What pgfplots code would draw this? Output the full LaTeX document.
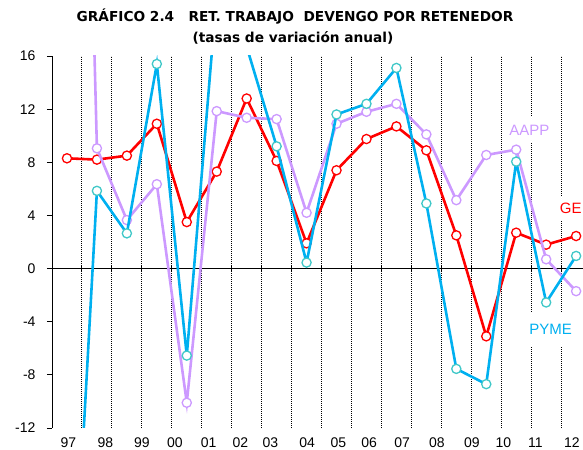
\documentclass[border=0pt]{standalone}
\usepackage{pgfplots}
\pgfplotsset{compat=1.18}
\usepackage{fontspec}
\setmainfont{Liberation Sans}
\newfontfamily\titlefont{DejaVu Sans}
\definecolor{geRed}{HTML}{FF0000}
\definecolor{pymeLine}{HTML}{00B0F0}
\definecolor{pymeMark}{HTML}{40C8C8}
\definecolor{aappCol}{HTML}{CC99FF}
\begin{document}
\begin{tikzpicture}
\begin{axis}[
  at={(0,0)}, anchor=south west,
  scale only axis, width=531.3bp, height=372bp,
  xmin=-0.5, xmax=17.24, ymin=-12, ymax=16,
  axis lines*=left,
  x axis line style={draw=none},
  y axis line style={black, line width=0.9bp},
  ytick={-12,-8,...,16},
  tick align=outside,
  major tick length=5bp,
  ytick style={black, line width=0.9bp},
  xtick={0.05,1.28,2.5,3.6,4.73,5.79,6.79,8.02,9.06,10.09,11.19,12.35,13.52,14.57,15.64,16.86},
  xticklabels={97,98,99,00,01,02,03,04,05,06,07,08,09,10,11,12},
  xtick style={draw=none},
  minor xtick={0.5,1.5,...,16.5},
  minor tick length=0pt,
  xminorgrids=true,
  minor x grid style={black, line width=1bp, dash pattern=on 1bp off 1bp},
  extra y ticks={0},
  extra y tick labels={},
  extra y tick style={grid=major, major grid style={black, line width=1bp}, tick style={draw=none}},
  /pgf/number format/assume math mode=true,
  ticklabel style={font=\fontsize{14bp}{16bp}\selectfont, text=black},
  yticklabel style={xshift=-8bp},
  xticklabel style={yshift=-1bp},
  clip marker paths=true,
  every axis plot/.append style={line width=2.6bp, mark=*, mark size=4.6bp},
]
\addplot[only marks, mark=|, mark size=3bp, black, line width=0.9bp, forget plot]
  coordinates {(0.5,0)(1.5,0)(2.5,0)(3.5,0)(4.5,0)(5.5,0)(6.5,0)(7.5,0)(8.5,0)(9.5,0)(10.5,0)(11.5,0)(12.5,0)(13.5,0)(14.5,0)(15.5,0)(16.5,0)};
% GE
\addplot[geRed, mark options={fill=white, draw=geRed, line width=1.3bp}] coordinates {
(0,8.3)(1,8.2)(2,8.5)(3,10.9)(4,3.5)(5,7.3)(6,12.8)(7,8.1)(8,1.9)(9,7.4)(10,9.75)(11,10.7)(12,8.9)(13,2.5)(14,-5.1)(15,2.7)(16,1.8)(17,2.45)};
% AAPP
\addplot[aappCol, mark options={fill=white, draw=aappCol, line width=1.3bp}] coordinates {
(0,96)(1,9.05)(2,3.65)(3,6.35)(4,-10.1)(5,11.85)(6,11.35)(7,11.25)(8,4.2)(9,10.9)(10,11.8)(11,12.4)(12,10.1)(13,5.15)(14,8.55)(15,8.95)(16,0.7)(17,-1.7)};
% PYME
\addplot[pymeLine, mark options={fill=white, draw=pymeMark, line width=1.3bp}] coordinates {
(0,-35)(1,5.85)(2,2.65)(3,15.4)(4,-6.55)(5,20.7)(6,16.7)(7,9.2)(8,0.45)(9,11.6)(10,12.4)(11,15.1)(12,4.9)(13,-7.55)(14,-8.7)(15,8.05)(16,-2.55)(17,0.95)};
\node[text=aappCol, fill=white, inner xsep=3bp, inner ysep=0pt, minimum height=26bp, font=\fontsize{15bp}{17bp}\selectfont] at (axis cs:15.44,10.43) {AAPP};
\node[text=geRed, fill=white, anchor=east, inner xsep=1.5bp, inner ysep=0pt, minimum height=25bp, font=\fontsize{15bp}{17bp}\selectfont] at (axis cs:17.24,4.5) {GE};
\node[text=pymeLine, fill=white, inner xsep=4bp, inner ysep=0pt, minimum height=34bp, font=\fontsize{15bp}{17bp}\selectfont] at (axis cs:16.15,-4.6) {PYME};
\end{axis}
\node[anchor=base, font=\titlefont\bfseries\fontsize{13.7bp}{16bp}\selectfont] at (243bp,406bp) {GRÁFICO 2.4\ \ \ RET. TRABAJO\ \ DEVENGO POR RETENEDOR};
\node[anchor=base, font=\titlefont\bfseries\fontsize{13.7bp}{16bp}\selectfont] at (241bp,385bp) {(tasas de variación anual)};
\pgfresetboundingbox
\path (-52bp,-22bp) rectangle (531bp,428bp);
\end{tikzpicture}
\end{document}
